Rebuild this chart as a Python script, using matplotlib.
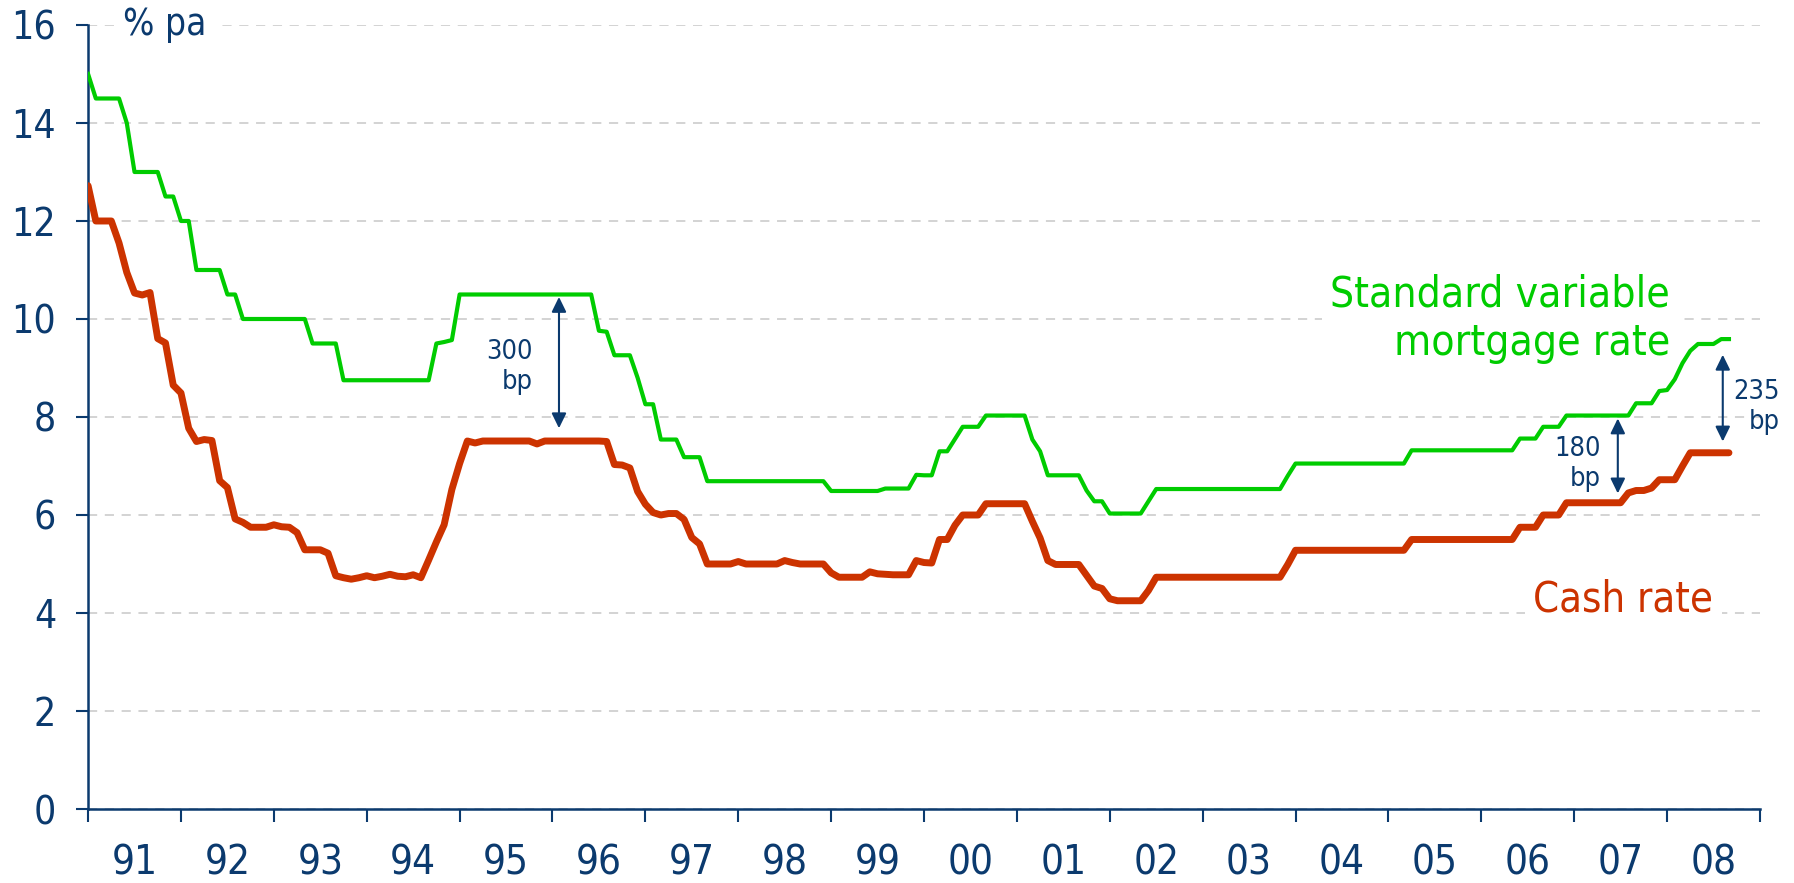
import numpy as np
import matplotlib
matplotlib.use('Agg')
import matplotlib.pyplot as plt

NAVY = '#0b3a6e'
GREEN = '#00cc00'
RED = '#cc3300'
GRID = '#c8c8c8'

# Monthly averages from January 1991, % pa
cash_rate = [
    12.72, 12.00, 12.00, 12.00, 11.55, 10.95, 10.53, 10.49, 10.54, 9.60, 9.51, 8.65,  # 1991
    8.49, 7.77, 7.50, 7.54, 7.52, 6.70, 6.56, 5.92, 5.85, 5.75, 5.75, 5.75,  # 1992
    5.80, 5.76, 5.75, 5.64, 5.29, 5.29, 5.29, 5.22, 4.76, 4.72, 4.69, 4.72,  # 1993
    4.76, 4.72, 4.75, 4.79, 4.75, 4.74, 4.78, 4.72, 5.08, 5.45, 5.80, 6.52,  # 1994
    7.05, 7.51, 7.47, 7.51, 7.51, 7.51, 7.51, 7.51, 7.51, 7.51, 7.45, 7.51,  # 1995
    7.51, 7.51, 7.51, 7.51, 7.51, 7.51, 7.51, 7.50, 7.03, 7.02, 6.96, 6.48,  # 1996
    6.22, 6.05, 6.00, 6.03, 6.03, 5.91, 5.54, 5.41, 5.00, 5.00, 5.00, 5.00,  # 1997
    5.05, 5.00, 5.00, 5.00, 5.00, 5.00, 5.07, 5.03, 5.00, 5.00, 5.00, 5.00,  # 1998
    4.82, 4.73, 4.73, 4.73, 4.73, 4.84, 4.80, 4.79, 4.78, 4.78, 4.78, 5.07,  # 1999
    5.03, 5.02, 5.50, 5.50, 5.79, 6.00, 6.00, 6.00, 6.23, 6.23, 6.23, 6.23,  # 2000
    6.23, 6.23, 5.87, 5.53, 5.07, 4.99, 4.99, 4.99, 4.99, 4.77, 4.55, 4.50,  # 2001
    4.29, 4.25, 4.25, 4.25, 4.25, 4.46, 4.73, 4.73, 4.73, 4.73, 4.73, 4.73,  # 2002
    4.73, 4.73, 4.73, 4.73, 4.73, 4.73, 4.73, 4.73, 4.73, 4.73, 4.73, 4.99,  # 2003
    5.28, 5.28, 5.28, 5.28, 5.28, 5.28, 5.28, 5.28, 5.28, 5.28, 5.28, 5.28,  # 2004
    5.28, 5.28, 5.28, 5.50, 5.50, 5.50, 5.50, 5.50, 5.50, 5.50, 5.50, 5.50,  # 2005
    5.50, 5.50, 5.50, 5.50, 5.50, 5.75, 5.75, 5.75, 6.00, 6.00, 6.00, 6.25,  # 2006
    6.25, 6.25, 6.25, 6.25, 6.25, 6.25, 6.25, 6.45, 6.50, 6.50, 6.55, 6.72,  # 2007
    6.72, 6.72, 7.00, 7.27, 7.27, 7.27, 7.27, 7.27, 7.27,  # 2008
]

mortgage_rate = [
    15.00, 14.50, 14.50, 14.50, 14.50, 14.00, 13.00, 13.00, 13.00, 13.00, 12.50, 12.50,  # 1991
    12.00, 12.00, 11.00, 11.00, 11.00, 11.00, 10.50, 10.50, 10.00, 10.00, 10.00, 10.00,  # 1992
    10.00, 10.00, 10.00, 10.00, 10.00, 9.50, 9.50, 9.50, 9.50, 8.75, 8.75, 8.75,  # 1993
    8.75, 8.75, 8.75, 8.75, 8.75, 8.75, 8.75, 8.75, 8.75, 9.50, 9.53, 9.57,  # 1994
    10.50, 10.50, 10.50, 10.50, 10.50, 10.50, 10.50, 10.50, 10.50, 10.50, 10.50, 10.50,  # 1995
    10.50, 10.50, 10.50, 10.50, 10.50, 10.50, 9.76, 9.74, 9.26, 9.26, 9.26, 8.80,  # 1996
    8.26, 8.26, 7.54, 7.54, 7.54, 7.18, 7.18, 7.18, 6.69, 6.69, 6.69, 6.69,  # 1997
    6.69, 6.69, 6.69, 6.69, 6.69, 6.69, 6.69, 6.69, 6.69, 6.69, 6.69, 6.69,  # 1998
    6.49, 6.49, 6.49, 6.49, 6.49, 6.49, 6.49, 6.54, 6.54, 6.54, 6.54, 6.82,  # 1999
    6.81, 6.81, 7.30, 7.30, 7.55, 7.80, 7.80, 7.80, 8.03, 8.03, 8.03, 8.03,  # 2000
    8.03, 8.03, 7.54, 7.30, 6.81, 6.81, 6.81, 6.81, 6.81, 6.50, 6.28, 6.28,  # 2001
    6.03, 6.03, 6.03, 6.03, 6.03, 6.28, 6.53, 6.53, 6.53, 6.53, 6.53, 6.53,  # 2002
    6.53, 6.53, 6.53, 6.53, 6.53, 6.53, 6.53, 6.53, 6.53, 6.53, 6.53, 6.80,  # 2003
    7.05, 7.05, 7.05, 7.05, 7.05, 7.05, 7.05, 7.05, 7.05, 7.05, 7.05, 7.05,  # 2004
    7.05, 7.05, 7.05, 7.32, 7.32, 7.32, 7.32, 7.32, 7.32, 7.32, 7.32, 7.32,  # 2005
    7.32, 7.32, 7.32, 7.32, 7.32, 7.56, 7.56, 7.56, 7.80, 7.80, 7.80, 8.03,  # 2006
    8.03, 8.03, 8.03, 8.03, 8.03, 8.03, 8.03, 8.03, 8.28, 8.28, 8.28, 8.53,  # 2007
    8.55, 8.77, 9.10, 9.35, 9.49, 9.49, 9.49, 9.59, 9.59,  # 2008
]

year_labels = ['91', '92', '93', '94', '95', '96', '97', '98', '99',
               '00', '01', '02', '03', '04', '05', '06', '07', '08']
y_ticks = [0, 2, 4, 6, 8, 10, 12, 14, 16]

months = 1991 + np.arange(len(cash_rate)) / 12

plt.rcParams['font.family'] = 'DejaVu Sans'
plt.rcParams['font.stretch'] = 'condensed'
fig = plt.figure(figsize=(17.94, 8.83), dpi=100)
ax = fig.add_axes([0.0491, 0.0838, 0.9319, 0.8879])

ax.plot(months, mortgage_rate, color=GREEN, lw=3, zorder=3)
ax.plot(months, cash_rate, color=RED, lw=5, solid_joinstyle='round',
        solid_capstyle='round', zorder=3)

ax.set_xlim(1991, 2009)
ax.set_ylim(0, 16)

for side in ['top', 'right']:
    ax.spines[side].set_visible(False)
for side in ['left', 'bottom']:
    ax.spines[side].set_color(NAVY)
    ax.spines[side].set_linewidth(1.8)

# year boundaries as ticks, labels centred in each year
ax.set_xticks(np.arange(1991, 2010))
ax.set_xticklabels([])
ax.set_xticks(np.arange(1991, 2009) + 0.5, minor=True)
ax.set_xticklabels(year_labels, minor=True)
ax.tick_params(axis='x', which='major', length=9, width=1.5, color=NAVY)
ax.tick_params(axis='x', which='minor', length=0, pad=25, labelsize=29,
               labelcolor=NAVY)

ax.set_yticks(y_ticks)
ax.tick_params(axis='y', length=9, width=1.5, color=NAVY, pad=14,
               labelsize=28, labelcolor=NAVY)

ax.yaxis.grid(True, color=GRID, ls=(0, (6, 5)), lw=1.1)
ax.set_axisbelow(True)

box = dict(fc='white', ec='none', pad=6)
ax.text(1991.38, 16, '% pa', fontsize=26.5, color=NAVY, ha='left',
        va='center', bbox=box, zorder=2)
ax.text(2008.03, 10.0, 'Standard variable\nmortgage rate', fontsize=30.5,
        color=GREEN, ha='right', va='center', multialignment='right',
        linespacing=1.2, bbox=box, zorder=2)
ax.text(2008.5, 4.27, 'Cash rate', fontsize=30, color=RED, ha='right',
        va='center', bbox=box, zorder=2)

# spread annotations
arrow = dict(arrowstyle='<|-|>,head_length=0.45,head_width=0.22',
             mutation_scale=20, color=NAVY, lw=1.5, shrinkA=0, shrinkB=0)
spreads = [
    ('300\nbp', 1996.07, 10.45, 7.77, 1995.79, 9.02),
    ('180\nbp', 2007.47, 7.97, 6.44, 2007.29, 7.05),
    ('235\nbp', 2008.60, 9.27, 7.50, 2009.21, 8.20),
]
for label, xa, top, bottom, xt, yt in spreads:
    ax.annotate('', xy=(xa, top), xytext=(xa, bottom), arrowprops=arrow,
                zorder=4)
    ax.text(xt, yt, label, fontsize=19.5, color=NAVY, ha='right', va='center',
            multialignment='right', linespacing=1.2, zorder=4)

fig.savefig('out.png', dpi=100)
